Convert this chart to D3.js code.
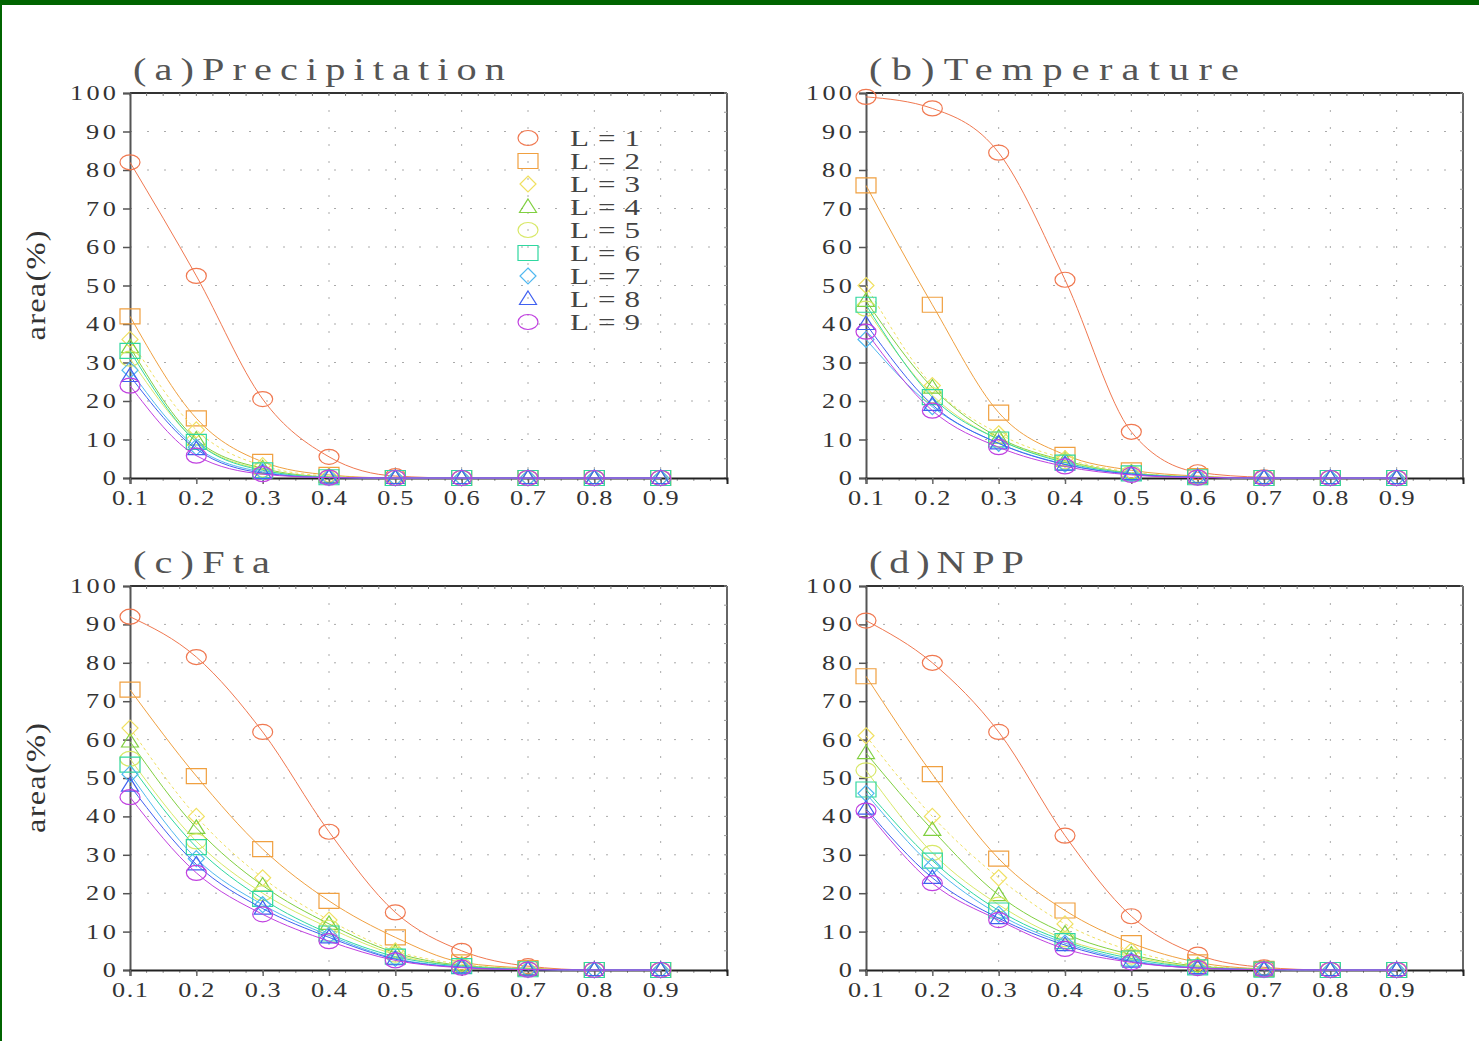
<!DOCTYPE html>
<html><head><meta charset="utf-8">
<script src="https://cdn.jsdelivr.net/npm/d3@7/dist/d3.min.js"></script>
<style>body{margin:0;background:#fff;}svg{display:block;}</style>
</head><body>
<script>
const xValues = [0.1,0.2,0.3,0.4,0.5,0.6,0.7,0.8,0.9];
const xTickLabels = ["0.1","0.2","0.3","0.4","0.5","0.6","0.7","0.8","0.9"];
const yTickValues = [0,10,20,30,40,50,60,70,80,90,100];
const seriesNames = ["L=1","L=2","L=3","L=4","L=5","L=6","L=7","L=8","L=9"];
const panelTitles = ["(a)Precipitation","(b)Temperature","(c)Fta","(d)NPP"];

const precipitation = [
  [82,52.5,20.5,5.5,0.5,0,0,0,0],
  [42,15.5,4.2,0.8,0,0,0,0,0],
  [36,12.5,3.2,0.5,0,0,0,0,0],
  [34,10,2.5,0.3,0,0,0,0,0],
  [31,9.5,2.2,0.2,0,0,0,0,0],
  [33,9.4,2,0.2,0,0,0,0,0],
  [28,8,1.6,0.1,0,0,0,0,0],
  [26.5,7.5,1.3,0.1,0,0,0,0,0],
  [24,5.8,1,0.1,0,0,0,0,0]
];
const temperature = [
  [99,96,84.5,51.5,12,1.5,0.2,0,0],
  [76,45,17,6,2,0.5,0,0,0],
  [50,24,11.5,5,1.5,0.3,0,0,0],
  [46,23.5,10.5,4.5,1.3,0.3,0,0,0],
  [44,21.5,10,4.3,1.2,0.2,0,0,0],
  [45,21,10,4,1.2,0.2,0,0,0],
  [36,18.5,9,3.6,1,0.2,0,0,0],
  [40,19,9,3.5,1,0.2,0,0,0],
  [38,17.5,8,3,0.8,0.1,0,0,0]
];
const fta = [
  [92,81.5,62,36,15,5,1,0,0],
  [73,50.5,31.5,18,8.5,2,0.5,0,0],
  [63,40,24,13,5,1.5,0.3,0,0],
  [59.5,37,22,12,4.5,1.2,0.3,0,0],
  [55,33.5,20,11,4,1,0.2,0,0],
  [53.5,32,18.5,9.5,3.5,1,0.2,0,0],
  [51,29,17,9,3,0.8,0.1,0,0],
  [48,27.5,16,8.5,2.8,0.7,0.1,0,0],
  [45,25.3,14.5,7.5,2.5,0.6,0.1,0,0]
];
const npp = [
  [91,80,62,35,14,4,0.7,0,0],
  [76.5,51,29,15.5,7,2,0.3,0,0],
  [61,40,24,12,5,1.3,0.2,0,0],
  [56.5,36.5,19.5,9.5,4,1,0.2,0,0],
  [52,30.5,17,8,3.5,0.8,0.1,0,0],
  [47,28.5,15.5,7.5,3,0.7,0.1,0,0],
  [46,27,14.5,7,2.5,0.6,0.1,0,0],
  [42,24,13.5,6.5,2.2,0.5,0.1,0,0],
  [41.5,22.6,13,5.5,2,0.5,0.1,0,0]
];
const panelData = [precipitation, temperature, fta, npp];

const colors = ["#f07850","#f0a040","#f0e060","#80d040","#d8e868","#30d8a0","#50b8f0","#4060f0","#c040e0"];
const shapes = ["circle","square","diamond","triangle","circle","square","diamond","triangle","circle"];
const dashes = [null,null,"3,3",null,null,null,null,null,null];

const W = 1479, H = 1041;
const svg = d3.select("body").append("svg").attr("width",W).attr("height",H);
svg.append("rect").attr("width",W).attr("height",H).attr("fill","#fff");
svg.append("rect").attr("x",0).attr("y",0).attr("width",W).attr("height",5).attr("fill","#006400");
svg.append("rect").attr("x",0).attr("y",0).attr("width",2).attr("height",H).attr("fill","#006400");

const FONT = "'Liberation Serif', 'DejaVu Serif', serif";

const panels = [
  {left:130, right:727, top:93, bottom:478, gridStart:0.4, legend:true},
  {left:866, right:1463, top:93, bottom:478, gridStart:0.3, legend:false},
  {left:130, right:727, top:586, bottom:970, gridStart:0.4, legend:false},
  {left:866, right:1463, top:586, bottom:970, gridStart:0.3, legend:false}
];
const titleLengths = [372, 370, 137, 155];

function wideText(g, x, y, str, size, width, anchor, sx, fill){
  return g.append("text").attr("transform",`translate(${x},${y}) scale(${sx},1)`)
    .attr("text-anchor",anchor).attr("font-family",FONT).attr("font-size",size)
    .attr("fill",fill||"#333").attr("textLength",width/sx).attr("lengthAdjust","spacing").text(str);
}

function markerPath(shape){
  if(shape==="square") return "M-10,-7.5H10V7.5H-10Z";
  if(shape==="diamond") return "M0,-8L8,0L0,8L-8,0Z";
  return "M0,-8L8.5,5.5H-8.5Z";
}
function drawMarker(g, shape, color, x, y){
  if(shape==="circle"){
    g.append("ellipse").attr("cx",x).attr("cy",y).attr("rx",10).attr("ry",7.5)
      .attr("fill","none").attr("stroke",color).attr("stroke-width",1.2);
  } else {
    g.append("path").attr("d",markerPath(shape)).attr("transform",`translate(${x},${y})`)
      .attr("fill","none").attr("stroke",color).attr("stroke-width",1.2);
  }
}

panels.forEach((p,pi)=>{
  const g = svg.append("g");
  const x = d3.scaleLinear().domain([0.1,1.0]).range([p.left,p.right]);
  const y = d3.scaleLinear().domain([0,100]).range([p.bottom,p.top]);

  yTickValues.filter(v=>v>0&&v<100).forEach(v=>{
    g.append("line").attr("x1",p.left).attr("x2",p.right).attr("y1",y(v)).attr("y2",y(v))
      .attr("stroke","#aaa").attr("stroke-width",1).attr("stroke-dasharray","2,15");
  });
  xValues.filter(v=>v>=p.gridStart-1e-9).forEach(v=>{
    g.append("line").attr("x1",x(v)).attr("x2",x(v)).attr("y1",p.top).attr("y2",p.bottom)
      .attr("stroke","#aaa").attr("stroke-width",1).attr("stroke-dasharray","2,15");
  });

  g.append("line").attr("x1",p.left).attr("x2",p.right).attr("y1",p.top).attr("y2",p.top).attr("stroke","#333").attr("stroke-width",2);
  g.append("line").attr("x1",p.right).attr("x2",p.right).attr("y1",p.top).attr("y2",p.bottom+2).attr("stroke","#666").attr("stroke-width",2);

  const minorX = d3.range(0,37).map(i=>0.1+i*0.025);
  minorX.forEach(v=>{
    g.append("line").attr("x1",x(v)).attr("x2",x(v)).attr("y1",p.top).attr("y2",p.top+3).attr("stroke","#777").attr("stroke-width",1);
    g.append("line").attr("x1",x(v)).attr("x2",x(v)).attr("y1",p.bottom).attr("y2",p.bottom+3).attr("stroke","#999").attr("stroke-width",1);
  });
  d3.range(0,21).map(i=>i*5).forEach(v=>{
    g.append("line").attr("x1",p.right).attr("x2",p.right-3).attr("y1",y(v)).attr("y2",y(v)).attr("stroke","#999").attr("stroke-width",1);
  });

  const yAxis = d3.axisLeft(y).tickValues(yTickValues).tickSize(7).tickFormat("");
  const ya = g.append("g").attr("transform",`translate(${p.left},0)`).call(yAxis);
  ya.select(".domain").attr("stroke","#555").attr("stroke-width",2);
  ya.selectAll(".tick line").attr("stroke","#555").attr("stroke-width",1.5);
  const xAxis = d3.axisBottom(x).tickValues(xValues).tickSize(6).tickFormat("");
  const xa = g.append("g").attr("transform",`translate(0,${p.bottom})`).call(xAxis);
  xa.select(".domain").attr("stroke","#222").attr("stroke-width",2);
  xa.selectAll(".tick line").attr("stroke","#666").attr("stroke-width",1.5);

  yTickValues.forEach(v=>{
    const s = String(v);
    wideText(g, p.left-14, y(v)+7, s, 21, s.length*16-2, "end", 1.25, "#333");
  });
  xValues.forEach((v,i)=>{
    wideText(g, x(v), p.bottom+27, xTickLabels[i], 21, 36, "middle", 1.25, "#333");
  });

  wideText(g, p.left+3, p.top-13, panelTitles[pi], 31, titleLengths[pi], "start", 1.3, "#555");

  if(pi%2===0){
    const cy = (p.top+p.bottom)/2;
    g.append("text").attr("transform",`translate(45,${cy}) rotate(-90) scale(1.2,1)`).attr("text-anchor","middle")
      .attr("font-family",FONT).attr("font-size",27).attr("fill","#333")
      .attr("textLength",110/1.2).attr("lengthAdjust","spacing").text("area(%)");
  }

  const line = d3.line().x((d,i)=>x(xValues[i])).y(d=>y(d)).curve(d3.curveMonotoneX);
  panelData[pi].forEach((vals,si)=>{
    g.append("path").attr("d",line(vals)).attr("fill","none").attr("stroke",colors[si])
      .attr("stroke-width",1).attr("stroke-dasharray",dashes[si]);
    vals.forEach((v,i)=>drawMarker(g, shapes[si], colors[si], x(xValues[i]), y(v)));
  });

  if(p.legend){
    seriesNames.forEach((n,si)=>{
      const ly = 138 + si*23;
      drawMarker(g, shapes[si], colors[si], 528, ly);
      wideText(g, 570, ly+8, n, 23, 70, "start", 1.35, "#444");
    });
  }
});
</script>
</body></html>
